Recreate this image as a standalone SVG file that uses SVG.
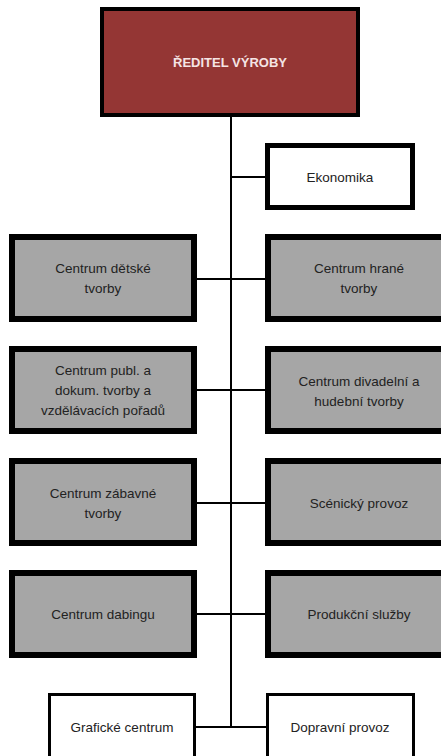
<svg xmlns="http://www.w3.org/2000/svg" width="441" height="756" viewBox="0 0 441 756">
<style>
.t{font-family:"Liberation Sans",Arial,sans-serif;font-size:13.5px;fill:#222;text-anchor:middle}
.title{font-family:"Liberation Sans",Arial,sans-serif;font-size:13px;font-weight:bold;fill:#f5e4e4;text-anchor:middle}
.g{fill:#a6a6a6;stroke:#000;stroke-width:6}
.w{fill:#fff;stroke:#000;stroke-width:5}
.w2{fill:#fff;stroke:#000;stroke-width:3}
.c{stroke:#000;stroke-width:2;fill:none}
</style>
<rect width="441" height="756" fill="#fff"/>
<g id="connectors">
<line class="c" x1="231" y1="115" x2="231" y2="727"/>
<line class="c" x1="231" y1="177" x2="266" y2="177"/>
<line class="c" x1="196" y1="279" x2="266" y2="279"/>
<line class="c" x1="196" y1="390" x2="266" y2="390"/>
<line class="c" x1="196" y1="503" x2="266" y2="503"/>
<line class="c" x1="196" y1="614" x2="266" y2="614"/>
<line class="c" x1="195" y1="727" x2="268" y2="727"/>
</g>
<g id="reditel">
<rect x="102" y="9" width="256" height="106" fill="#943634" stroke="#000" stroke-width="4"/>
<text class="title" x="230" y="67">ŘEDITEL VÝROBY</text>
</g>
<g id="ekonomika">
<rect class="w" x="267.5" y="145.5" width="145" height="62"/>
<text class="t" x="340" y="182">Ekonomika</text>
</g>
<g id="detske">
<rect class="g" x="12" y="237" width="182" height="82"/>
<text class="t" x="103" y="273">Centrum dětské</text>
<text class="t" x="103" y="293">tvorby</text>
</g>
<g id="hrane">
<rect class="g" x="268" y="237" width="182" height="82"/>
<text class="t" x="359" y="273">Centrum hrané</text>
<text class="t" x="359" y="293">tvorby</text>
</g>
<g id="publ">
<rect class="g" x="12" y="349" width="182" height="82"/>
<text class="t" x="103" y="375">Centrum publ. a</text>
<text class="t" x="103" y="395">dokum. tvorby a</text>
<text class="t" x="103" y="415">vzdělávacích pořadů</text>
</g>
<g id="divadelni">
<rect class="g" x="268" y="349" width="182" height="82"/>
<text class="t" x="359" y="386">Centrum divadelní a</text>
<text class="t" x="359" y="406">hudební tvorby</text>
</g>
<g id="zabavne">
<rect class="g" x="12" y="461" width="182" height="82"/>
<text class="t" x="103" y="498">Centrum zábavné</text>
<text class="t" x="103" y="518">tvorby</text>
</g>
<g id="scenicky">
<rect class="g" x="268" y="461" width="182" height="82"/>
<text class="t" x="359" y="508">Scénický provoz</text>
</g>
<g id="dabing">
<rect class="g" x="12" y="573" width="182" height="82"/>
<text class="t" x="103" y="619">Centrum dabingu</text>
</g>
<g id="produkcni">
<rect class="g" x="268" y="573" width="182" height="82"/>
<text class="t" x="359" y="619">Produkční služby</text>
</g>
<g id="graficke">
<rect class="w2" x="49.5" y="694.5" width="145" height="80"/>
<text class="t" x="122" y="732">Grafické centrum</text>
</g>
<g id="dopravni">
<rect class="w2" x="267.5" y="694.5" width="146" height="80"/>
<text class="t" x="340" y="732">Dopravní provoz</text>
</g>
</svg>
